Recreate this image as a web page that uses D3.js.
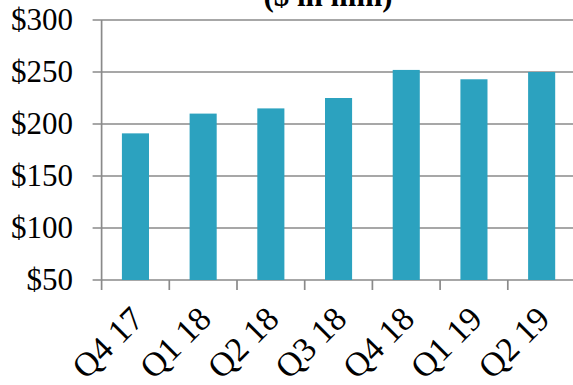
<!DOCTYPE html>
<html>
<head>
<meta charset="utf-8">
<script src="https://cdn.jsdelivr.net/npm/d3@7"></script>
<style>
  html, body { margin: 0; padding: 0; background: #fff; }
  svg { display: block; }
  text { font-family: "Liberation Serif", "Times New Roman", serif; fill: #000; }
</style>
</head>
<body>
<svg id="chart" width="573" height="385"></svg>
<script>
// Quarterly values ($ in mm)
const quarters = ["Q4 17", "Q1 18", "Q2 18", "Q3 18", "Q4 18", "Q1 19", "Q2 19"];
const values = [191, 210, 215, 225, 252, 243, 250];
const yTicks = [50, 100, 150, 200, 250, 300];
const titleText = "($ in mm)";

const svg = d3.select("#chart");
const plotLeft = 101.6, plotTop = 20, plotBottom = 280;
const step = 67.7;
const plotRight = plotLeft + step * quarters.length;

const x = d3.scaleBand().domain(quarters).range([plotLeft, plotRight]).paddingInner(0.6).paddingOuter(0.3);
const xEdge = d3.scaleLinear().domain([0, quarters.length]).range([plotLeft, plotRight]);
const y = d3.scaleLinear().domain([50, 300]).range([plotBottom, plotTop]);

const gridColor = "#8a8a8a";

// horizontal gridlines with short ticks left of the axis
svg.append("g").selectAll("line").data(yTicks).join("line")
  .attr("x1", plotLeft - 9).attr("x2", 573)
  .attr("y1", d => y(d)).attr("y2", d => y(d))
  .attr("stroke", gridColor).attr("stroke-width", 1.7);

// vertical axis line
svg.append("line")
  .attr("x1", plotLeft).attr("x2", plotLeft).attr("y1", plotTop).attr("y2", plotBottom + 10)
  .attr("stroke", gridColor).attr("stroke-width", 1.7);

// category tick marks under the axis
svg.append("g").selectAll("line").data(d3.range(1, quarters.length)).join("line")
  .attr("x1", d => xEdge(d)).attr("x2", d => xEdge(d))
  .attr("y1", plotBottom).attr("y2", plotBottom + 10)
  .attr("stroke", gridColor).attr("stroke-width", 1.7);

// bars
svg.append("g").selectAll("rect").data(values).join("rect")
  .attr("x", (d, i) => x(quarters[i]))
  .attr("width", x.bandwidth())
  .attr("y", d => y(d))
  .attr("height", d => plotBottom - y(d))
  .attr("fill", "#2ca2bf");

// y labels
svg.append("g").selectAll("text").data(yTicks).join("text")
  .attr("x", 73).attr("y", d => y(d))
  .attr("dy", "0.33em")
  .attr("text-anchor", "end")
  .attr("font-size", 31)
  .text(d => "$" + d);

// rotated category labels
svg.append("g").selectAll("text").data(quarters).join("text")
  .attr("text-anchor", "end")
  .attr("font-size", 34)
  .attr("transform", d => `translate(${x(d) + x.bandwidth() / 2 + 10},${plotBottom + 41}) rotate(-45)`)
  .text(d => d);

// title (upper line falls outside the canvas)
svg.append("text")
  .attr("x", 328).attr("y", 6)
  .attr("text-anchor", "middle")
  .attr("font-size", 31)
  .attr("font-weight", "bold")
  .text(titleText);
</script>
</body>
</html>
